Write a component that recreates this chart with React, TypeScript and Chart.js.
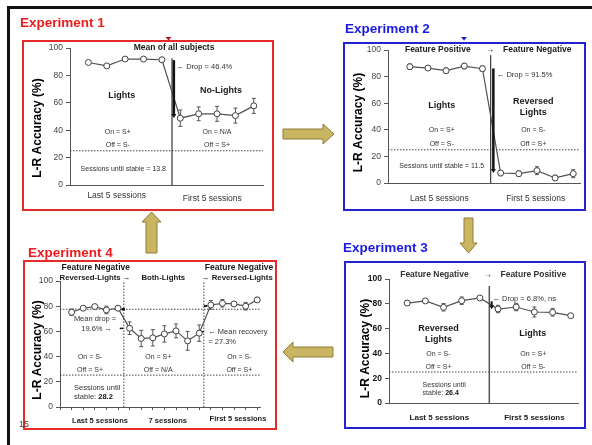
import React, { useEffect, useRef } from "react";
import { Chart, registerables } from "chart.js";

Chart.register(...registerables);

const FONT = "'Liberation Sans', Arial, Helvetica, sans-serif";
const NARROW = "'Liberation Sans Narrow', 'Arial Narrow', 'Liberation Sans', Arial, sans-serif";

// ---------- data ----------
const yTicks = [0, 20, 40, 60, 80, 100];

// Experiment 1: last 5 sessions (Lights) + first 5 sessions (No-Lights)
const exp1Sessions = [1, 2, 3, 4, 5, 6, 7, 8, 9, 10];
const exp1Accuracy = [89.5, 87, 92, 92, 91.5, 48.8, 52, 52, 50.7, 57.8];
const exp1Error = [0, 0, 0, 0, 0, 6, 5, 5.5, 5.5, 5.5];

// Experiment 2: Feature Positive -> Feature Negative
const exp2Sessions = [1, 2, 3, 4, 5, 6, 7, 8, 9, 10];
const exp2Accuracy = [87.5, 86.5, 84.5, 88, 86, 7.5, 7, 9.3, 3.8, 7];
const exp2Error = [2, 1.5, 2, 2, 2, 2, 2, 3, 2, 3];

// Experiment 3: Feature Negative -> Feature Positive
const exp3Sessions = [1, 2, 3, 4, 5, 6, 7, 8, 9, 10];
const exp3Accuracy = [80.6, 82.3, 77.2, 82.5, 84.7, 75.8, 77.4, 73.4, 73.1, 70.4];
const exp3Error = [1.5, 1.5, 3, 3, 1, 3, 3, 4, 3, 1];

// Experiment 4: Reversed-Lights -> Both-Lights -> Reversed-Lights
const exp4Sessions = [1, 2, 3, 4, 5, 6, 7, 8, 9, 10, 11, 12, 13, 14, 15, 16, 17];
const exp4Accuracy = [75.2, 78.4, 79.7, 77.0, 78.4, 62.5, 54.4, 54.9, 58.0, 60.4, 52.5, 58.6, 81.0, 82.3, 81.8, 80.0, 85.0];
const exp4Error = [2.5, 1.5, 1.5, 3, 1.5, 5, 6.5, 6.5, 6.5, 5.5, 7.5, 6.5, 3.5, 3, 1.5, 3, 2];
const exp4TickMarks = [0, 1, 2, 3, 4, 5, 6, 7, 8, 9, 10, 11, 12, 13, 14, 15, 16, 17];

// ---------- layout / annotation types ----------
type Note = {
  text: string; x: number; y: number; size: number; bold?: boolean;
  align?: CanvasTextAlign; color?: string; tail?: string; narrow?: boolean;
};
type Seg = { x1: number; y1: number; x2: number; y2: number; width: number; color: string; dash?: number[] };
type DropArrow = { x: number; y1: number; y2: number; width: number };
type PanelCfg = {
  key: string;
  title: string; titleColor: string; titleX: number; titleY: number;
  box: { left: number; top: number; width: number; height: number }; boxColor: string;
  area: { left: number; top: number; right: number; bottom: number };
  xMin: number; xMax: number;
  sessions: number[]; values: number[]; errors: number[];
  yTickBold: boolean; yTickColor: string;
  xTicks: number[];
  yTitleDx: number; yTitleDy: number;
  segs: Seg[]; arrows: DropArrow[]; notes: Note[];
};

const DOT = [1.5, 1.5];
const small = (text: string, x: number, y: number, extra: Partial<Note> = {}): Note =>
  ({ text, x, y, size: 7, color: "#333", narrow: true, ...extra });
const bold = (text: string, x: number, y: number, size = 9, extra: Partial<Note> = {}): Note =>
  ({ text, x, y, size, bold: true, color: "#1a1a1a", ...extra });

const panels: PanelCfg[] = [
  {
    key: "e1", title: "Experiment 1", titleColor: "#EE1C1C", titleX: 20, titleY: 23,
    box: { left: 22, top: 40, width: 252, height: 171 }, boxColor: "#E52A2A",
    area: { left: 70, top: 48, right: 263, bottom: 185 },
    xMin: 0, xMax: 10.5,
    sessions: exp1Sessions, values: exp1Accuracy, errors: exp1Error,
    yTickBold: false, yTickColor: "#444", xTicks: [],
    yTitleDx: -32.5, yTitleDy: 11.5,
    segs: [
      { x1: 0, y1: 25, x2: 10.5, y2: 25, width: 1, color: "#444", dash: DOT },
      { x1: 5.55, y1: 0, x2: 5.55, y2: 92.5, width: 1.3, color: "#444" },
    ],
    arrows: [{ x: 5.65, y1: 91.2, y2: 49, width: 2.5 }],
    notes: [
      bold("Mean of all subjects", 5.66, 100, 8.5),
      small("← Drop = 46.4%", 5.8, 86.4, { align: "left", size: 7.5, narrow: false }),
      bold("Lights", 2.81, 65.7),
      bold("No-Lights", 8.22, 68.8),
      small("On = S+", 2.6, 38.5),
      small("Off = S-", 2.6, 29),
      small("On = N/A", 8.0, 38.5),
      small("Off = S+", 8.0, 29),
      small("Sessions until stable = 13.8", 2.9, 11.5, { narrow: false }),
      { text: "Last 5 sessions", x: 2.54, y: -8, size: 8.5, color: "#333" },
      { text: "First 5 sessions", x: 7.74, y: -9.7, size: 8.5, color: "#333" },
    ],
  },
  {
    key: "e2", title: "Experiment 2", titleColor: "#1A1AE6", titleX: 345, titleY: 29,
    box: { left: 343, top: 42, width: 243, height: 169 }, boxColor: "#2323D2",
    area: { left: 388, top: 50, right: 580, bottom: 183 },
    xMin: -0.2, xMax: 10.37,
    sessions: exp2Sessions, values: exp2Accuracy, errors: exp2Error,
    yTickBold: false, yTickColor: "#444", xTicks: [],
    yTitleDx: -29, yTitleDy: 6,
    segs: [
      { x1: -0.2, y1: 25, x2: 10.37, y2: 25, width: 1, color: "#444", dash: DOT },
      { x1: 5.45, y1: 0, x2: 5.45, y2: 96.2, width: 1.3, color: "#444" },
    ],
    arrows: [{ x: 5.6, y1: 86.2, y2: 7.5, width: 2.5 }],
    notes: [
      bold("Feature Positive", 2.54, 100, 8.5),
      bold("→", 5.42, 100, 8.5),
      bold("Feature Negative", 8.02, 100, 8.5),
      small("← Drop = 91.5%", 5.79, 81.5, { align: "left", size: 7.5, narrow: false }),
      bold("Lights", 2.76, 58.4),
      bold("Reversed", 7.8, 61.1),
      bold("Lights", 7.8, 53.1),
      small("On = S+", 2.76, 40),
      small("Off = S-", 2.76, 29.6),
      small("On = S-", 7.8, 40),
      small("Off = S+", 7.8, 29.6),
      small("Sessions until stable = 11.5", 2.76, 13, { narrow: false }),
      { text: "Last 5 sessions", x: 2.63, y: -11.5, size: 8.5, color: "#333" },
      { text: "First 5 sessions", x: 7.93, y: -11.5, size: 8.5, color: "#333" },
    ],
  },
  {
    key: "e3", title: "Experiment 3", titleColor: "#1A1AE6", titleX: 343, titleY: 248,
    box: { left: 344, top: 261, width: 242, height: 168 }, boxColor: "#2323D2",
    area: { left: 389, top: 279, right: 578, bottom: 403 },
    xMin: 0, xMax: 10.4,
    sessions: exp3Sessions, values: exp3Accuracy, errors: exp3Error,
    yTickBold: true, yTickColor: "#111", xTicks: [],
    yTitleDx: -23.5, yTitleDy: 7.5,
    segs: [
      { x1: 0, y1: 25, x2: 10.4, y2: 25, width: 1, color: "#444", dash: DOT },
      { x1: 5.52, y1: 0, x2: 5.52, y2: 94.4, width: 1.5, color: "#555" },
    ],
    arrows: [{ x: 5.65, y1: 82, y2: 75.6, width: 2 }],
    notes: [
      bold("Feature Negative", 2.5, 103.8, 8.5, { color: "#333" }),
      bold("→", 5.43, 103.8, 8.5, { color: "#333" }),
      bold("Feature Positive", 7.94, 103.8, 8.5, { color: "#333" }),
      small("← Drop = 6.8%, ns", 5.69, 83.6, { align: "left", size: 7.5, narrow: false }),
      bold("Reversed", 2.72, 59.7),
      bold("Lights", 2.72, 51.6),
      bold("Lights", 7.91, 56.2),
      small("On = S-", 2.72, 39.2),
      small("Off = S+", 2.72, 29.3),
      small("On = S+", 7.94, 39.2),
      small("Off = S-", 7.94, 29.3),
      small("Sessions until", 1.85, 14.5, { align: "left" }),
      small("stable: ", 1.85, 8.3, { align: "left", tail: "26.4" }),
      bold("Last 5 sessions", 2.77, -11.8, 8),
      bold("First 5 sessions", 8.0, -12.3, 8),
    ],
  },
  {
    key: "e4", title: "Experiment 4", titleColor: "#EE1C1C", titleX: 28, titleY: 252.5,
    box: { left: 23, top: 260, width: 254, height: 170 }, boxColor: "#E52A2A",
    area: { left: 60, top: 281, right: 260, bottom: 407 },
    xMin: 0, xMax: 17.24,
    sessions: exp4Sessions, values: exp4Accuracy, errors: exp4Error,
    yTickBold: false, yTickColor: "#444", xTicks: exp4TickMarks,
    yTitleDx: -22.5, yTitleDy: 6,
    segs: [
      { x1: 0, y1: 77.6, x2: 17.24, y2: 77.6, width: 1, color: "#444", dash: DOT },
      { x1: 0, y1: 25.3, x2: 17.24, y2: 25.3, width: 1, color: "#444", dash: DOT },
      { x1: 5.5, y1: 0, x2: 5.5, y2: 100, width: 1, color: "#444", dash: DOT },
      { x1: 12.4, y1: 0, x2: 12.4, y2: 100, width: 1, color: "#444", dash: DOT },
      { x1: 5.3, y1: 77.6, x2: 5.6, y2: 77.6, width: 2.5, color: "#111" },
      { x1: 5.15, y1: 62.4, x2: 5.45, y2: 62.4, width: 1.5, color: "#111" },
      { x1: 12.4, y1: 80.2, x2: 12.7, y2: 80.2, width: 2, color: "#111" },
      { x1: 12.1, y1: 59.8, x2: 12.4, y2: 59.8, width: 1.5, color: "#111" },
    ],
    arrows: [],
    notes: [
      bold("Feature Negative", 3.08, 110.6, 8.5),
      bold("Reversed-Lights →", 3.02, 102.6, 7.8),
      bold("Both-Lights", 8.9, 102.6, 7.8),
      bold("Feature Negative", 15.43, 110.6, 8.5),
      bold("→ Reversed-Lights", 15.28, 102.6, 7.8),
      small("Mean drop =", 3.02, 69.8, { size: 7.5, narrow: false }),
      small("19.6% →", 3.16, 61.9, { size: 7.5, narrow: false }),
      small("← Mean recovery", 12.78, 59.3, { align: "left", size: 7.5, narrow: false }),
      small("= 27.3%", 12.78, 51.3, { align: "left", size: 7.5, narrow: false }),
      small("On = S-", 2.59, 39.9),
      small("Off = S+", 2.59, 29.4),
      small("On = S+", 8.47, 39.9),
      small("Off = N/A", 8.47, 29.4),
      small("On = S-", 15.46, 39.9),
      small("Off = S+", 15.46, 29.4),
      small("Sessions until", 1.21, 14.8, { align: "left", size: 7.5, narrow: false }),
      small("stable: ", 1.21, 8.2, { align: "left", tail: "28.2", size: 7.5, narrow: false }),
      bold("Last 5 sessions", 3.45, -10.9, 7.5),
      bold("7 sessions", 9.29, -10.9, 7.5),
      bold("First 5 sessions", 15.34, -9.8, 7.5),
    ],
  },
];

// ---------- overlay plugin (annotations, error bars, arrows) ----------
function makeOverlay(cfg: PanelCfg) {
  return {
    id: "overlay_" + cfg.key,
    beforeDatasetsDraw(chart: any) {
      const ctx: CanvasRenderingContext2D = chart.ctx;
      const xs = chart.scales.x;
      const ys = chart.scales.y;
      ctx.save();
      for (const s of cfg.segs) {
        ctx.beginPath();
        ctx.setLineDash(s.dash || []);
        ctx.lineWidth = s.width;
        ctx.strokeStyle = s.color;
        ctx.moveTo(xs.getPixelForValue(s.x1), ys.getPixelForValue(s.y1));
        ctx.lineTo(xs.getPixelForValue(s.x2), ys.getPixelForValue(s.y2));
        ctx.stroke();
      }
      ctx.setLineDash([]);
      ctx.strokeStyle = "#555";
      ctx.lineWidth = 1;
      cfg.sessions.forEach((sx, i) => {
        const e = cfg.errors[i];
        if (!e) return;
        const px = xs.getPixelForValue(sx);
        const t = ys.getPixelForValue(cfg.values[i] + e);
        const b = ys.getPixelForValue(cfg.values[i] - e);
        ctx.beginPath();
        ctx.moveTo(px, t); ctx.lineTo(px, b);
        ctx.moveTo(px - 2, t); ctx.lineTo(px + 2, t);
        ctx.moveTo(px - 2, b); ctx.lineTo(px + 2, b);
        ctx.stroke();
      });
      ctx.restore();
    },
    afterDatasetsDraw(chart: any) {
      const ctx: CanvasRenderingContext2D = chart.ctx;
      const xs = chart.scales.x;
      const ys = chart.scales.y;
      ctx.save();
      // drop arrows
      for (const a of cfg.arrows) {
        const px = xs.getPixelForValue(a.x);
        const y1 = ys.getPixelForValue(a.y1);
        const y2 = ys.getPixelForValue(a.y2);
        const head = 4;
        ctx.strokeStyle = "#111";
        ctx.fillStyle = "#111";
        ctx.lineWidth = a.width;
        ctx.beginPath();
        ctx.moveTo(px, y1);
        ctx.lineTo(px, y2 - head);
        ctx.stroke();
        ctx.beginPath();
        ctx.moveTo(px - 2.5, y2 - head);
        ctx.lineTo(px + 2.5, y2 - head);
        ctx.lineTo(px, y2);
        ctx.closePath();
        ctx.fill();
      }
      // notes
      ctx.textBaseline = "middle";
      for (const n of cfg.notes) {
        const fam = n.narrow ? NARROW : FONT;
        ctx.font = `${n.bold ? "bold " : ""}${n.size}px ${fam}`;
        ctx.fillStyle = n.color || "#222";
        ctx.textAlign = n.align || "center";
        const px = xs.getPixelForValue(n.x);
        const py = ys.getPixelForValue(n.y);
        ctx.fillText(n.text, px, py);
        if (n.tail) {
          const w = ctx.measureText(n.text).width;
          ctx.font = `bold ${n.size}px ${fam}`;
          ctx.textAlign = "left";
          ctx.fillStyle = "#111";
          ctx.fillText(n.tail, px + w, py);
        }
      }
      // y axis title
      const area = chart.chartArea;
      ctx.translate(area.left + cfg.yTitleDx, (area.top + area.bottom) / 2 + cfg.yTitleDy);
      ctx.rotate(-Math.PI / 2);
      ctx.font = `bold 12px ${FONT}`;
      ctx.fillStyle = "#000";
      ctx.textAlign = "center";
      ctx.textBaseline = "middle";
      ctx.fillText("L-R Accuracy (%)", 0, 0);
      ctx.restore();
    },
  };
}

function Panel({ cfg }: { cfg: PanelCfg }) {
  const ref = useRef<HTMLCanvasElement>(null);
  useEffect(() => {
    const { box, area } = cfg;
    const chart = new Chart(ref.current as HTMLCanvasElement, {
      type: "line",
      data: {
        datasets: [
          {
            data: cfg.sessions.map((s, i) => ({ x: s, y: cfg.values[i] })),
            borderColor: "#505050",
            borderWidth: 1.2,
            pointRadius: 3,
            pointBackgroundColor: "#ffffff",
            pointBorderColor: "#404040",
            pointBorderWidth: 1,
            tension: 0,
            clip: false as any,
          },
        ],
      },
      options: {
        animation: false,
        responsive: false,
        maintainAspectRatio: false,
        events: [],
        layout: {
          padding: { left: 0, top: area.top - box.top, right: box.left + box.width - area.right, bottom: 0 },
        },
        plugins: { legend: { display: false }, tooltip: { enabled: false } },
        scales: {
          x: {
            type: "linear",
            min: cfg.xMin,
            max: cfg.xMax,
            afterBuildTicks: (axis: any) => {
              axis.ticks = cfg.xTicks.map((v) => ({ value: v }));
            },
            ticks: { display: false },
            grid: { drawOnChartArea: false, drawTicks: true, tickLength: 3, color: "#555" },
            border: { display: true, color: "#555", width: 1 },
            afterFit: (axis: any) => {
              axis.height = box.top + box.height - area.bottom;
            },
          },
          y: {
            min: 0,
            max: 100,
            afterBuildTicks: (axis: any) => {
              axis.ticks = yTicks.map((v) => ({ value: v }));
            },
            ticks: {
              font: { family: FONT, size: 8.5, weight: cfg.yTickBold ? "bold" : "normal" },
              color: cfg.yTickColor,
              padding: 3,
            },
            grid: { drawOnChartArea: false, drawTicks: true, tickLength: 4, color: "#555" },
            border: { display: true, color: "#555", width: 1 },
            afterFit: (axis: any) => {
              axis.width = area.left - box.left;
            },
          },
        },
      } as any,
      plugins: [makeOverlay(cfg)],
    });
    return () => chart.destroy();
  }, [cfg]);
  const { box } = cfg;
  return (
    <>
      <canvas
        ref={ref}
        width={box.width}
        height={box.height}
        style={{ position: "absolute", left: box.left, top: box.top, width: box.width, height: box.height }}
      />
      <div
        style={{
          position: "absolute", left: box.left, top: box.top, width: box.width, height: box.height,
          boxSizing: "border-box", border: `2px solid ${cfg.boxColor}`, pointerEvents: "none",
        }}
      />
      <div
        style={{
          position: "absolute", left: cfg.titleX, top: cfg.titleY - 8, height: 16, lineHeight: "16px",
          fontFamily: FONT, fontWeight: "bold", fontSize: 13.5, color: cfg.titleColor, whiteSpace: "nowrap",
        }}
      >
        {cfg.title}
      </div>
    </>
  );
}

const ARROW_FILL = "#C9B562";
const ARROW_STROKE = "#8E7C36";

export default function App() {
  return (
    <div
      style={{
        position: "absolute", left: 0, top: 0, width: 592, height: 445,
        background: "#ffffff", overflow: "hidden",
      }}
    >
      {/* slide frame */}
      <div style={{ position: "absolute", left: 7, top: 6, width: 585, height: 3, background: "#111" }} />
      <div style={{ position: "absolute", left: 7, top: 6, width: 3, height: 439, background: "#111" }} />
      {panels.map((p) => (
        <Panel key={p.key} cfg={p} />
      ))}
      <svg width={592} height={445} style={{ position: "absolute", left: 0, top: 0, pointerEvents: "none" }}>
        <g fill={ARROW_FILL} stroke={ARROW_STROKE} strokeWidth={1}>
          <polygon points="283,129 323,129 323,124 334,134 323,144 323,139 283,139" />
          <polygon points="146,253 146,222 142,222 151.5,212 161,222 157,222 157,253" />
          <polygon points="464,218 473,218 473,243 477,243 468.5,253 460,243 464,243" />
          <polygon points="333,347 293,347 293,342 283,352 293,362 293,357 333,357" />
        </g>
        <polygon points="165.5,37 171.5,37 168.5,40.5" fill="#C01010" />
        <polygon points="461,37 467,37 464,40.5" fill="#1A1AE6" />
      </svg>
      <div
        style={{
          position: "absolute", left: 19, top: 419, fontFamily: FONT, fontSize: 9, color: "#444", lineHeight: "10px",
        }}
      >
        15
      </div>
    </div>
  );
}
